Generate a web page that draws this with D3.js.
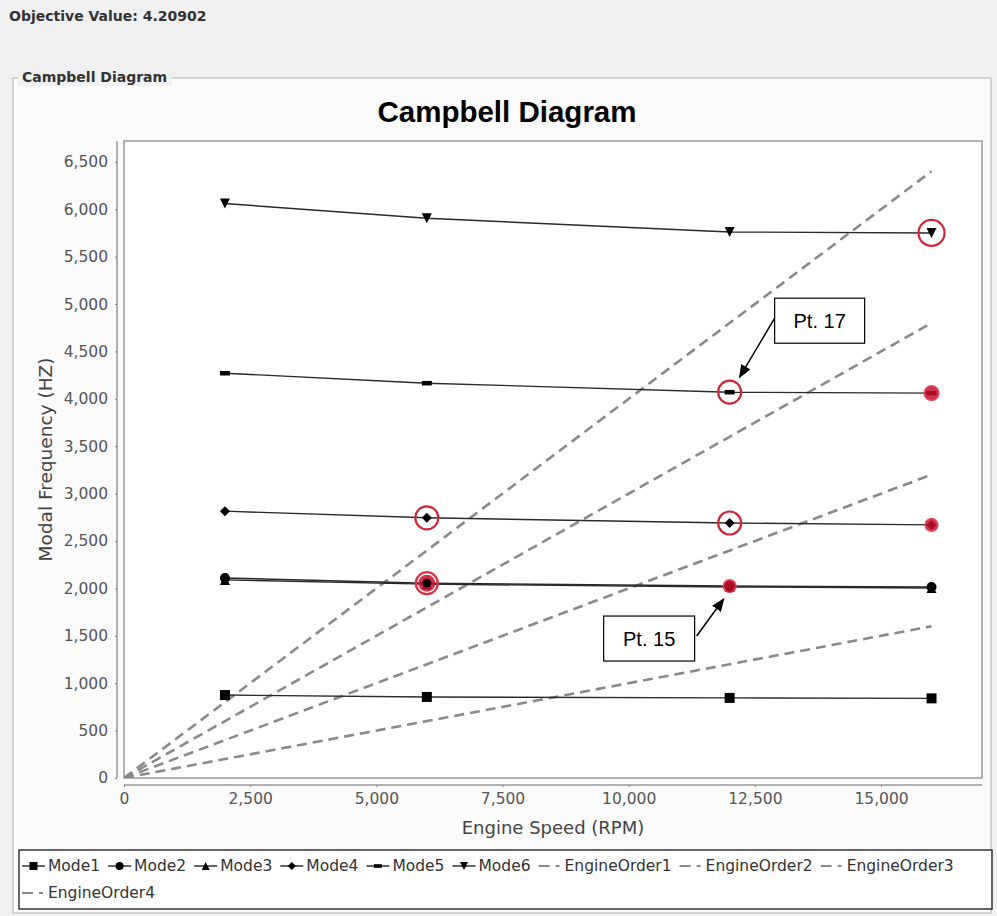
<!DOCTYPE html>
<html>
<head>
<meta charset="utf-8">
<script src="https://cdn.jsdelivr.net/npm/d3@7"></script>
<style>
  body { margin: 0; background: #f0f0f0; }
  svg { display: block; }
</style>
</head>
<body>
<div id="chart"></div>
<script>
// engine speeds where the modes were computed
const rpm = [2000, 6000, 12000, 16000];
const mode1 = [875, 855, 845, 840];
const mode2 = [2110, 2055, 2025, 2015];
const mode3 = [2090, 2045, 2015, 2005];
const mode4 = [2815, 2745, 2690, 2670];
const mode5 = [4270, 4165, 4070, 4060];
const mode6 = [6060, 5905, 5760, 5750];

// engine order excitation lines (start / end)
const eoRpm = [0, 16000];
const eo1 = [0, 1600];
const eo2 = [0, 3200];
const eo3 = [0, 4800];
const eo4 = [0, 6400];

const xTicks = [0, 2500, 5000, 7500, 10000, 12500, 15000];
const yTicks = [0, 500, 1000, 1500, 2000, 2500, 3000, 3500, 4000, 4500, 5000, 5500, 6000, 6500];

// highlighted points: [mode, rpm index, kind]
const highlights = [
    ["Mode6", 3, "ring"],
    ["Mode5", 2, "ring"],
    ["Mode5", 3, "dot"],
    ["Mode4", 1, "ring"],
    ["Mode4", 2, "ring"],
    ["Mode4", 3, "dot"],
    ["Mode2", 1, "big"],
    ["Mode2", 2, "dot"]
];

const modes = [
    { name: "Mode1", values: mode1, symbol: "square" },
    { name: "Mode2", values: mode2, symbol: "circle" },
    { name: "Mode3", values: mode3, symbol: "triangle" },
    { name: "Mode4", values: mode4, symbol: "diamond" },
    { name: "Mode5", values: mode5, symbol: "bar" },
    { name: "Mode6", values: mode6, symbol: "down" }
];
const orders = [
    { name: "EngineOrder1", values: eo1 },
    { name: "EngineOrder2", values: eo2 },
    { name: "EngineOrder3", values: eo3 },
    { name: "EngineOrder4", values: eo4 }
];

const W = 997, H = 916;
const plot = { left: 124, right: 982, top: 141, bottom: 778 };

const svg = d3.select("#chart").append("svg")
    .attr("width", W)
    .attr("height", H)
    .style("font-family", "'DejaVu Sans', Verdana, sans-serif");

// window header
svg.append("rect").attr("width", W).attr("height", H).attr("fill", "#f0f0f0");
svg.append("text")
    .attr("x", 9).attr("y", 21)
    .attr("font-size", 14).attr("font-weight", "bold")
    .attr("fill", "#333")
    .text("Objective Value: 4.20902");

// titled panel
svg.append("rect")
    .attr("x", 13).attr("y", 78).attr("width", 978).attr("height", 835)
    .attr("fill", "#fbfbfb")
    .attr("stroke", "#c8c8c8").attr("stroke-width", 1.5);
svg.append("rect")
    .attr("x", 18).attr("y", 68).attr("width", 154).attr("height", 18)
    .attr("fill", "#f0f0f0");
svg.append("text")
    .attr("x", 22).attr("y", 82)
    .attr("font-size", 14).attr("font-weight", "bold")
    .attr("fill", "#333")
    .text("Campbell Diagram");

// chart title
svg.append("text")
    .attr("x", 507).attr("y", 122)
    .attr("text-anchor", "middle")
    .attr("font-family", "'Liberation Sans', Arial, sans-serif")
    .attr("font-size", 29.5).attr("font-weight", "bold")
    .attr("fill", "#000")
    .text("Campbell Diagram");

const x = d3.scaleLinear().domain([0, 17000]).range([plot.left, plot.right]);
const y = d3.scaleLinear().domain([0, 6720]).range([plot.bottom, plot.top]);

// plot background + border
svg.append("rect")
    .attr("x", plot.left).attr("y", plot.top)
    .attr("width", plot.right - plot.left).attr("height", plot.bottom - plot.top)
    .attr("fill", "#fff")
    .attr("stroke", "#999").attr("stroke-width", 1.5);

// axes (offset from the plot like JFreeChart does)
const fmt = d3.format(",");
const xAxis = svg.append("g")
    .attr("transform", `translate(0,785)`)
    .call(d3.axisBottom(x).tickValues(xTicks).tickFormat(fmt).tickSizeInner(2).tickSizeOuter(0).tickPadding(6));
const yAxis = svg.append("g")
    .attr("transform", `translate(117,0)`)
    .call(d3.axisLeft(y).tickValues(yTicks).tickFormat(fmt).tickSizeInner(2).tickSizeOuter(0).tickPadding(7));
[xAxis, yAxis].forEach(g => {
    g.select(".domain").attr("stroke", "#999").attr("stroke-width", 1.5);
    g.selectAll(".tick line").attr("stroke", "#888");
    g.selectAll(".tick text")
        .attr("font-family", "'DejaVu Sans', Verdana, sans-serif")
        .attr("font-size", 15.5)
        .attr("fill", "#555");
});
// stretch the axis lines to plot edges
xAxis.select(".domain").attr("d", `M${plot.left},0H${plot.right}`);
yAxis.select(".domain").attr("d", `M0,${plot.top}V${plot.bottom}`);

svg.append("text")
    .attr("x", (plot.left + plot.right) / 2).attr("y", 834)
    .attr("text-anchor", "middle")
    .attr("font-size", 18).attr("fill", "#444")
    .text("Engine Speed (RPM)");
svg.append("text")
    .attr("transform", `translate(52,${(plot.top + plot.bottom) / 2}) rotate(-90)`)
    .attr("text-anchor", "middle")
    .attr("font-size", 18.5).attr("fill", "#444")
    .text("Modal Frequency (HZ)");

// marker shapes
function markerPath(kind, s) {
    const h = s / 2;
    switch (kind) {
        case "square": return `M${-h},${-h}h${s}v${s}h${-s}Z`;
        case "circle": return d3.symbol(d3.symbolCircle, s * s * 0.8)();
        case "triangle": return `M0,${-h}L${h},${h}L${-h},${h}Z`;
        case "diamond": return `M0,${-h}L${h},0L0,${h}L${-h},0Z`;
        case "bar": return `M${-h},${-h / 2.2}h${s}v${s / 2.2}h${-s}Z`;
        case "down": return `M${-h},${-h}L${h},${-h}L0,${h}Z`;
    }
}

const clip = svg.append("clipPath").attr("id", "plotclip")
    .append("rect")
    .attr("x", plot.left).attr("y", plot.top)
    .attr("width", plot.right - plot.left).attr("height", plot.bottom - plot.top);
const g = svg.append("g").attr("clip-path", "url(#plotclip)");

// engine order lines
const eoLine = d3.line().x((d, i) => x(eoRpm[i])).y(d => y(d));
orders.forEach(o => {
    g.append("path")
        .attr("d", eoLine(o.values))
        .attr("fill", "none")
        .attr("stroke", "#8a8a8a")
        .attr("stroke-width", 2.6)
        .attr("stroke-dasharray", "10,6");
});

// mode lines
const modeLine = d3.line().x((d, i) => x(rpm[i])).y(d => y(d));
modes.forEach(m => {
    g.append("path")
        .attr("d", modeLine(m.values))
        .attr("fill", "none")
        .attr("stroke", "#2a2a2a")
        .attr("stroke-width", 1.4);
});
modes.forEach(m => {
    g.selectAll(null).data(m.values).enter()
        .append("path")
        .attr("d", markerPath(m.symbol, 10))
        .attr("transform", (d, i) => `translate(${x(rpm[i])},${y(d)})`)
        .attr("fill", "#000");
});

// highlighted points
const valuesOf = name => modes.find(m => m.name === name).values;
highlights.forEach(([name, i, kind]) => {
    const cx = x(rpm[i]), cy = y(valuesOf(name)[i]);
    if (kind === "ring") {
        g.append("circle")
            .attr("cx", cx).attr("cy", cy).attr("r", name === "Mode6" ? 13 : 11.5)
            .attr("fill", "none")
            .attr("stroke", "#d0263a").attr("stroke-width", 2.2);
    } else if (kind === "dot") {
        g.append("circle")
            .attr("cx", cx).attr("cy", cy).attr("r", name === "Mode5" ? 7.5 : 6.5)
            .attr("fill", "#c8102e").attr("fill-opacity", 0.85)
            .attr("stroke", "#e05060").attr("stroke-width", 1.2);
    } else {
        g.append("circle")
            .attr("cx", cx).attr("cy", cy).attr("r", 11)
            .attr("fill", "none")
            .attr("stroke", "#e03040").attr("stroke-width", 2.2);
        g.append("circle")
            .attr("cx", cx).attr("cy", cy).attr("r", 8.5)
            .attr("fill", "#c8102e").attr("fill-opacity", 0.85);
        g.append("circle")
            .attr("cx", cx).attr("cy", cy).attr("r", 4)
            .attr("fill", "#000");
    }
});

// annotations pointing at a data point
const annotations = [
    { text: "Pt. 17", mode: "Mode5", i: 2, box: [45, -94, 90, 45], from: [45, -74], tip: [10, -15] },
    { text: "Pt. 15", mode: "Mode2", i: 2, box: [-126, 30, 91, 45], from: [-33, 50], tip: [-6, 13] }
];
svg.append("defs").append("marker")
    .attr("id", "arrow")
    .attr("viewBox", "0 0 10 10")
    .attr("refX", 9).attr("refY", 5)
    .attr("markerWidth", 9).attr("markerHeight", 9)
    .attr("orient", "auto")
    .append("path").attr("d", "M0,1L10,5L0,9Z").attr("fill", "#000");
annotations.forEach(a => {
    const px = x(rpm[a.i]), py = y(valuesOf(a.mode)[a.i]);
    svg.append("line")
        .attr("x1", px + a.from[0]).attr("y1", py + a.from[1])
        .attr("x2", px + a.tip[0]).attr("y2", py + a.tip[1])
        .attr("stroke", "#000").attr("stroke-width", 1.5)
        .attr("marker-end", "url(#arrow)");
    svg.append("rect")
        .attr("x", px + a.box[0]).attr("y", py + a.box[1])
        .attr("width", a.box[2]).attr("height", a.box[3])
        .attr("fill", "#fff").attr("stroke", "#000").attr("stroke-width", 1.2);
    svg.append("text")
        .attr("x", px + a.box[0] + a.box[2] / 2).attr("y", py + a.box[1] + a.box[3] / 2 + 7)
        .attr("text-anchor", "middle")
        .attr("font-family", "'Liberation Sans', Arial, sans-serif")
        .attr("font-size", 20).attr("fill", "#000")
        .text(a.text);
});

// legend
const legend = { left: 19, top: 850, right: 992, bottom: 909 };
svg.append("rect")
    .attr("x", legend.left).attr("y", legend.top)
    .attr("width", legend.right - legend.left).attr("height", legend.bottom - legend.top)
    .attr("fill", "#fff").attr("stroke", "#333").attr("stroke-width", 1.5);
const items = modes.map(m => ({ name: m.name, symbol: m.symbol }))
    .concat(orders.map(o => ({ name: o.name, symbol: null })));
let lx = legend.left + 3, row = 0;
const rowY = [866, 893];
items.forEach(it => {
    const t = svg.append("text")
        .attr("font-size", 15.5).attr("fill", "#333")
        .attr("dominant-baseline", "central")
        .text(it.name);
    const tw = t.node().getComputedTextLength();
    const itemW = 26 + tw + 8;
    if (lx + itemW > legend.right - 5) { row++; lx = legend.left + 3; }
    const cy = rowY[row];
    if (it.symbol) {
        svg.append("line")
            .attr("x1", lx).attr("x2", lx + 23).attr("y1", cy).attr("y2", cy)
            .attr("stroke", "#222").attr("stroke-width", 1.4);
        svg.append("path")
            .attr("d", markerPath(it.symbol, 8))
            .attr("transform", `translate(${lx + 11.5},${cy})`)
            .attr("fill", "#000");
    } else {
        svg.append("line")
            .attr("x1", lx).attr("x2", lx + 23).attr("y1", cy).attr("y2", cy)
            .attr("stroke", "#8a8a8a").attr("stroke-width", 2)
            .attr("stroke-dasharray", "11,6,4");
    }
    t.attr("x", lx + 26).attr("y", cy);
    lx += itemW;
});
</script>
</body>
</html>
